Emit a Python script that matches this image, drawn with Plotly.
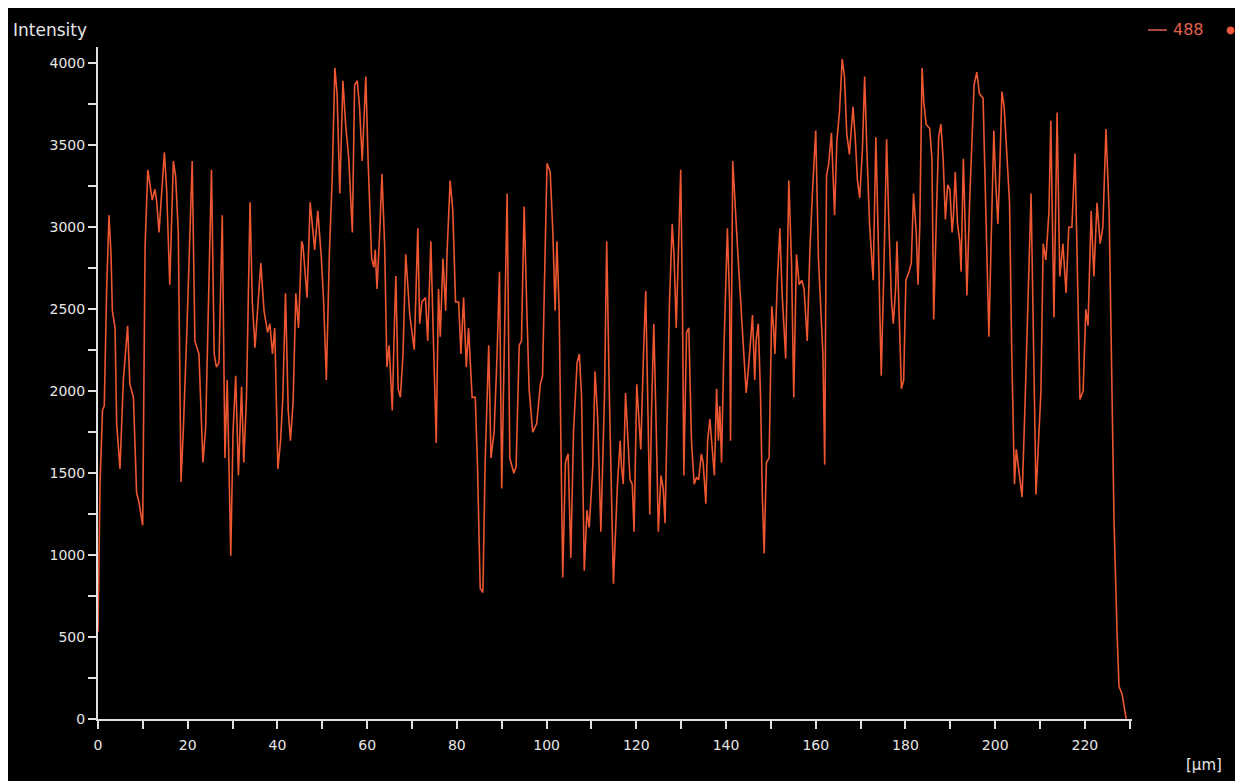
import plotly.graph_objects as go

# Intensity profile along the line (µm)
x_um = [
    0.0, 0.45, 1.0, 1.4, 1.93, 2.45, 2.9, 3.2, 3.8, 4.16, 4.9, 5.65, 6.6, 7.1, 7.9, 8.6, 9.1, 9.96,
    10.5, 11.1, 11.6, 12.1, 12.7, 13.1, 13.6, 14.2, 14.8, 15.3, 16.0, 16.8, 17.3, 17.9, 18.5, 19.0,
    19.8, 21.0, 21.6, 22.5,
    23.1, 23.4, 24.0, 24.6, 25.3, 25.9, 26.4, 26.97, 27.7, 28.3, 28.8, 29.2, 29.6, 30.1, 30.7, 31.3,
    32.0, 32.5, 33.1, 33.9, 34.4, 35.0, 35.5, 36.3, 37.0, 37.8, 38.3, 38.9, 39.4, 40.1, 40.7, 41.2,
    41.8, 42.4, 42.9, 43.5, 44.1, 44.7, 45.4,
    45.7, 46.6, 47.3, 48.3, 49.0, 49.8, 50.3, 50.9, 51.6, 52.2, 52.8, 53.3, 53.9, 54.6, 55.2, 55.9,
    56.7, 57.2, 57.8, 58.3, 58.9, 59.7, 60.2, 61.0, 61.5, 61.8, 62.2, 62.8, 63.3, 63.9, 64.4, 64.9,
    65.6, 66.1, 66.4, 66.9, 67.4, 68.0, 68.6,
    69.5, 70.0, 70.5, 71.3, 71.7, 72.2, 73.0, 73.5, 74.2, 74.8, 75.4, 75.9, 76.3, 76.9, 77.5, 77.8,
    78.5, 79.1, 79.7, 80.4, 80.9, 81.5, 82.1, 82.6, 83.4, 84.1, 84.6, 85.2, 85.8, 86.3, 87.1, 87.6,
    88.3, 88.9, 89.5, 90.0, 90.6, 91.2, 91.8,
    92.7, 93.2, 93.9, 94.4, 95.0, 95.6, 96.1, 96.9, 97.8, 98.6, 99.1, 99.6, 100.1, 100.8, 101.4,
    101.9, 102.3, 102.8, 103.2, 103.6, 104.2, 104.8, 105.4, 106.0, 106.8, 107.3, 107.8, 108.4,
    109.0, 109.5, 110.3, 110.8, 111.4, 112.1, 112.9, 113.4, 114.0, 114.9,
    115.8, 116.4, 116.7, 117.1, 117.6, 118.1, 118.6, 119.1, 119.5, 120.1, 120.6, 121.0, 121.6,
    122.1, 122.5, 123.0, 123.4, 123.9, 124.5, 124.9, 125.5, 126.0, 126.4, 126.9, 127.4, 128.0,
    128.4, 128.9, 129.3, 129.9, 130.3, 130.6, 131.2, 131.7, 132.3, 132.9, 133.4, 133.9, 134.5,
    134.9, 135.5, 135.9, 136.4, 136.9, 137.4, 137.9, 138.3,
    138.6, 139.0, 139.5, 140.3, 140.8, 141.0, 141.5, 142.1, 142.7, 143.5, 144.0, 144.5, 145.1,
    145.9, 146.4, 146.7, 147.2, 147.7, 148.1, 148.5, 149.0, 149.6, 150.2, 150.6, 150.9, 151.4,
    152.0, 152.5, 153.3, 154.0, 154.6, 155.1, 155.7, 156.3, 156.9, 157.4, 158.1, 158.7, 159.3,
    160.0, 160.6, 161.2,
    161.6, 162.0, 162.4, 162.9, 163.5, 163.8, 164.2, 164.7, 165.3, 165.9, 166.4, 166.9, 167.5,
    168.3, 168.8, 169.3, 169.8, 170.4, 170.9, 171.4, 172.0, 172.8, 173.4, 173.9, 174.3, 174.6,
    175.2, 175.8, 176.3, 176.9, 177.3, 177.8, 178.1, 178.6, 179.1, 179.6, 180.1, 180.8, 181.3,
    181.8, 182.4, 182.8, 183.2, 183.7, 184.1, 184.6,
    185.4, 185.9, 186.3, 186.9, 187.4, 187.9, 188.4, 188.9, 189.4, 189.9, 190.4, 190.7, 191.1,
    191.6, 192.1, 192.4, 192.9, 193.3, 193.7, 194.3, 194.8, 195.3, 195.9, 196.5, 197.3, 197.8,
    198.2, 198.6, 199.1, 199.7, 200.1, 200.6, 201.0, 201.5, 202.0, 202.6, 203.2, 203.7, 204.3,
    204.7, 205.2, 206.0, 206.7, 207.5, 208.0,
    209.1, 210.2, 210.7, 211.3, 212.0, 212.4, 213.1, 213.8, 214.4, 215.1, 215.8, 216.4, 217.1,
    217.8, 218.9, 219.6, 220.2, 220.7, 221.4, 222.0, 222.7, 223.4, 224.0, 224.7, 225.4, 226.0,
    226.5, 227.2, 227.6, 228.3, 229.2,
]

intensity = [
    533, 1433, 1883, 1910, 2624, 3074, 2835, 2491, 2386, 1803, 1526, 2068, 2399, 2042, 1962, 1380, 1327, 1182,
    2888, 3351, 3259, 3166, 3232, 3153, 2968, 3232, 3457, 3232, 2650, 3404, 3312, 2968, 1446, 1750,
    2359, 3404, 2306, 2227,
    1803, 1565, 1777, 2491, 3351, 2227, 2147, 2174, 3074, 1592, 2068, 1539, 996, 1750, 2094, 1486,
    2028, 1565, 1962, 3153, 2544, 2266, 2491, 2782, 2491, 2359, 2412, 2227, 2386, 1526, 1698, 1962,
    2597, 1883, 1698, 1936, 2597, 2386, 2915,
    2888, 2571, 3153, 2862, 3100, 2809, 2544, 2068, 2862, 3285, 3973, 3814, 3206, 3894, 3629, 3418,
    2968, 3867, 3894, 3735, 3404, 3920, 3418, 2809, 2756, 2862, 2624, 2968, 3325, 2888, 2147, 2280,
    1883, 2438, 2703, 2015, 1962, 2227, 2835,
    2465, 2359, 2253, 2994, 2412, 2544, 2571, 2306, 2915, 2280, 1684, 2624, 2333, 2809, 2491, 2835,
    3285, 3100, 2544, 2544, 2227, 2571, 2147, 2386, 1962, 1962, 1539, 798, 772, 1565, 2280, 1592,
    1750, 2174, 2729, 1407, 2438, 3206, 1592,
    1499, 1539, 2280, 2306, 3126, 2491, 2015, 1750, 1803, 2042, 2094, 2756, 3391, 3338, 2968,
    2491, 2915, 2491, 1698, 864, 1565, 1618, 983, 1750, 2174, 2227, 1962, 904,
    1274, 1168, 1539, 2121, 1830, 1142, 1962, 2915, 1962, 825,
    1433, 1698, 1539, 1433, 1989, 1750, 1460, 1433, 1142, 2042, 1830, 1645, 2227,
    2611, 2015, 1248, 1883, 2412, 1698, 1142, 1486, 1407, 1195, 1909, 2544, 3021,
    2835, 2386, 2756, 3351, 2491, 1486, 2359, 2386, 1698, 1433, 1473, 1460, 1618,
    1565, 1314, 1698, 1830, 1645, 1486, 2015, 1698,
    1909, 1565, 2227, 2994, 2544, 1698, 3404, 3074, 2809, 2438, 2174, 1989, 2174,
    2465, 2068, 2306, 2412, 1962, 1354, 1010, 1565, 1592, 2518, 2386, 2227, 2650,
    2994, 2597, 2200, 3285, 2782, 1962, 2835, 2650, 2677, 2624, 2306, 2862, 3232,
    3590, 2809, 2491,
    2227, 1552, 3312, 3391, 3576, 3365, 3074, 3523, 3709, 4026, 3920, 3576, 3444,
    3735, 3550, 3285, 3179, 3470, 3920, 3470, 3021, 2677, 3550, 2968, 2491, 2094,
    2756, 3537, 3021, 2544, 2412, 2624, 2915, 2491, 2015, 2068, 2677, 2729, 2782,
    3206, 2968, 2650, 3021, 3973, 3761, 3629,
    3603, 3418, 2438, 3074, 3550, 3629, 3418, 3047, 3259, 3232, 2968, 3074, 3338,
    3021, 2915, 2729, 3418, 3021, 2584, 3153, 3550, 3867, 3947, 3814, 3788, 3153,
    2756, 2333, 2915, 3590, 3285, 3021, 3338, 3828, 3735, 3418, 3153, 2227, 1433,
    1645, 1539, 1354, 1962, 2756, 3206,
    1370, 2000, 2900, 2800, 3100, 3650, 2450, 3700, 2700, 2900, 2600, 3000, 3000,
    3450, 1950, 2000, 2500, 2400, 3100, 2700, 3150, 2900, 3000, 3600, 3100, 2000,
    1200, 500, 200, 150, 0,
]

series_name = "488"
x_tick_vals = list(range(0, 231, 10))
x_tick_text = [str(v) if v % 20 == 0 else "" for v in x_tick_vals]
y_tick_vals = list(range(0, 4001, 250))
y_tick_text = [str(v) if v % 500 == 0 else "" for v in y_tick_vals]

OFF = 8                      # page body margin
W, H = 1243 - OFF, 781 - OFF
L, R, T, B = 98 - OFF, 1132 - OFF, 47 - OFF, 719 - OFF


def px(xp):  # page pixel -> paper coord
    return (xp - OFF - L) / (R - L)


def py(yp):
    return (B - (yp - OFF)) / (B - T)


fig = go.Figure()
fig.add_trace(go.Scatter(
    x=x_um, y=intensity, mode="lines",
    line=dict(color="#ec5630", width=1.6),
    name=series_name, showlegend=False,
))

FONT = "DejaVu Sans, Verdana, sans-serif"
axis_font = dict(family=FONT, size=14, color="#e6e6e6")

fig.update_layout(
    width=W, height=H,
    margin=dict(l=L, r=W - R, t=T, b=H - B),
    paper_bgcolor="black",
    plot_bgcolor="black",
    xaxis=dict(
        range=[0, 230.5], showgrid=False, zeroline=False,
        showline=True, linecolor="#e0e0e0", linewidth=2,
        ticks="outside", ticklen=8, tickwidth=1.5, tickcolor="#e0e0e0",
        tickvals=x_tick_vals, ticktext=x_tick_text, tickfont=axis_font,
        ticklabelstandoff=4,
    ),
    yaxis=dict(
        range=[0, 4100], showgrid=False, zeroline=False,
        showline=True, linecolor="#e0e0e0", linewidth=2,
        ticks="outside", ticklen=8, tickwidth=1.5, tickcolor="#e0e0e0",
        tickvals=y_tick_vals, ticktext=y_tick_text, tickfont=axis_font,
    ),
    shapes=[dict(
        type="line", xref="paper", yref="paper",
        x0=px(1148), x1=px(1167), y0=py(30), y1=py(30),
        line=dict(color="#e0604c", width=1.5),
    )],
    annotations=[
        dict(text="Intensity", xref="paper", yref="paper", x=px(11), y=py(30),
             xanchor="left", yanchor="middle", showarrow=False,
             font=dict(family=FONT, size=17, color="#e6e6e6")),
        dict(text="[µm]", xref="paper", yref="paper", x=px(1204), y=py(765),
             xanchor="center", yanchor="middle", showarrow=False,
             font=dict(family=FONT, size=15, color="#e6e6e6")),
        dict(text=series_name, xref="paper", yref="paper", x=px(1171), y=py(30),
             xanchor="left", yanchor="middle", showarrow=False,
             font=dict(family=FONT, size=16, color="#e0604c")),
        dict(text="\u25cf", xref="paper", yref="paper", x=px(1230), y=py(30),
             xanchor="center", yanchor="middle", showarrow=False,
             font=dict(family=FONT, size=10, color="#f05a3c")),
    ],
)

fig.write_html("out.html")
